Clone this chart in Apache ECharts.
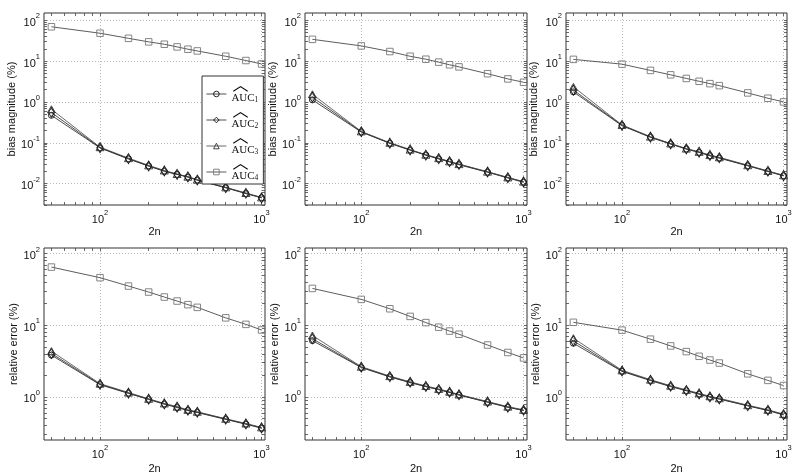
<!DOCTYPE html>
<html>
<head>
<meta charset="utf-8">
<script src="https://cdn.jsdelivr.net/npm/echarts@6/dist/echarts.min.js"></script>
<style>html,body{margin:0;padding:0;background:#fff}#c{width:800px;height:475px}</style>
</head>
<body>
<div id="c"></div>
<script>
// x values (2n)
const xs = [50, 100, 150, 200, 250, 300, 350, 400, 600, 800, 1000];
const seriesNames = ['AUC1', 'AUC2', 'AUC3', 'AUC4'];

// Top row: bias magnitude (%)
const biasP1_AUC1 = [0.47, 0.075, 0.040, 0.027, 0.020, 0.0168, 0.0145, 0.0122, 0.0079, 0.0057, 0.0045];
const biasP1_AUC2 = [0.55, 0.076, 0.041, 0.027, 0.0205, 0.0169, 0.0146, 0.0123, 0.0080, 0.0058, 0.0045];
const biasP1_AUC3 = [0.66, 0.078, 0.042, 0.028, 0.021, 0.0172, 0.0148, 0.0125, 0.0081, 0.0059, 0.0046];
const biasP1_AUC4 = [69, 48, 36, 29.5, 25.8, 22.2, 19.5, 17.7, 13.1, 10.3, 8.5];

const biasP2_AUC1 = [1.12, 0.183, 0.097, 0.066, 0.050, 0.040, 0.034, 0.029, 0.019, 0.0138, 0.0108];
const biasP2_AUC2 = [1.30, 0.186, 0.098, 0.067, 0.050, 0.041, 0.0346, 0.0297, 0.0193, 0.0140, 0.0110];
const biasP2_AUC3 = [1.54, 0.190, 0.100, 0.068, 0.051, 0.042, 0.035, 0.030, 0.0196, 0.0142, 0.0112];
const biasP2_AUC4 = [34, 23.5, 17.1, 13.1, 11.1, 9.4, 8.1, 7.2, 4.9, 3.66, 3.03];

const biasP3_AUC1 = [1.76, 0.262, 0.136, 0.093, 0.070, 0.058, 0.048, 0.042, 0.0273, 0.0198, 0.0155];
const biasP3_AUC2 = [1.95, 0.267, 0.138, 0.094, 0.071, 0.059, 0.049, 0.043, 0.0277, 0.0201, 0.0157];
const biasP3_AUC3 = [2.34, 0.273, 0.141, 0.096, 0.072, 0.060, 0.050, 0.044, 0.0282, 0.0204, 0.0160];
const biasP3_AUC4 = [11.0, 8.4, 5.9, 4.6, 3.75, 3.2, 2.8, 2.5, 1.66, 1.23, 1.0];

// Bottom row: relative error (%)
const relP1_AUC1 = [3.83, 1.48, 1.12, 0.92, 0.79, 0.71, 0.645, 0.605, 0.485, 0.415, 0.365];
const relP1_AUC2 = [4.04, 1.50, 1.13, 0.93, 0.80, 0.72, 0.65, 0.61, 0.49, 0.42, 0.37];
const relP1_AUC3 = [4.35, 1.53, 1.15, 0.94, 0.81, 0.73, 0.66, 0.62, 0.495, 0.425, 0.375];
const relP1_AUC4 = [65, 46.2, 35.3, 29.1, 24.8, 21.8, 19.4, 17.8, 12.7, 10.3, 8.6];

const relP2_AUC1 = [6.1, 2.57, 1.90, 1.58, 1.39, 1.26, 1.15, 1.06, 0.84, 0.715, 0.645];
const relP2_AUC2 = [6.5, 2.60, 1.92, 1.60, 1.40, 1.27, 1.16, 1.07, 0.85, 0.72, 0.65];
const relP2_AUC3 = [7.2, 2.64, 1.95, 1.62, 1.42, 1.29, 1.18, 1.08, 0.86, 0.73, 0.66];
const relP2_AUC4 = [32.7, 23, 17, 13.3, 10.9, 9.4, 8.3, 7.5, 5.3, 4.17, 3.5];

const relP3_AUC1 = [5.6, 2.27, 1.69, 1.39, 1.22, 1.09, 0.99, 0.93, 0.75, 0.645, 0.56];
const relP3_AUC2 = [6.05, 2.30, 1.71, 1.41, 1.23, 1.10, 1.00, 0.94, 0.755, 0.65, 0.565];
const relP3_AUC3 = [6.6, 2.35, 1.74, 1.43, 1.25, 1.12, 1.02, 0.955, 0.765, 0.66, 0.575];
const relP3_AUC4 = [11.0, 8.55, 6.4, 5.15, 4.29, 3.69, 3.27, 2.97, 2.1, 1.70, 1.44];

// axis ranges and tick labels
const xRange = [45, 1050];
const xTickLabels = [100, 1000];
const biasRange = [0.003, 150];
const biasTickLabels = [0.01, 0.1, 1, 10, 100];
const relRange = [0.25, 120];
const relTickLabels = [1, 10, 100];
const yNames = ['bias magnitude (%)', 'relative error (%)'];
const xName = '2n';

const panels = [
  {data: [biasP1_AUC1, biasP1_AUC2, biasP1_AUC3, biasP1_AUC4], row: 0, col: 0},
  {data: [biasP2_AUC1, biasP2_AUC2, biasP2_AUC3, biasP2_AUC4], row: 0, col: 1},
  {data: [biasP3_AUC1, biasP3_AUC2, biasP3_AUC3, biasP3_AUC4], row: 0, col: 2},
  {data: [relP1_AUC1, relP1_AUC2, relP1_AUC3, relP1_AUC4], row: 1, col: 0},
  {data: [relP2_AUC1, relP2_AUC2, relP2_AUC3, relP2_AUC4], row: 1, col: 1},
  {data: [relP3_AUC1, relP3_AUC2, relP3_AUC3, relP3_AUC4], row: 1, col: 2}
];

function logTicks(lo, hi) {
  const out = [];
  for (let e = Math.floor(Math.log10(lo)) - 1; e <= Math.ceil(Math.log10(hi)); e++) {
    for (let m = 1; m <= 9; m++) {
      const v = +(m * Math.pow(10, e)).toPrecision(6);
      if (v >= lo * 0.9999 && v <= hi * 1.0001) out.push(v);
    }
  }
  return out;
}

const FONT = 'Liberation Sans';
function powLabel(v) {
  const e = Math.round(Math.log10(v));
  return '{b|10}{e|' + e + '}';
}
const labelRich = {
  b: {fontSize: 11, fontFamily: FONT, color: '#111', lineHeight: 16, verticalAlign: 'bottom'},
  e: {fontSize: 7.5, fontFamily: FONT, color: '#111', lineHeight: 16, verticalAlign: 'top'}
};

const colLeft = [44, 305, 566];
const colWidth = [221, 222, 221];
const rowTop = [13, 248];
const rowHeight = 192;

const grids = [], xAxes = [], yAxes = [], series = [];
const styles = [
  {symbol: 'circle', size: 6, border: '#111', line: '#222'},
  {symbol: 'diamond', size: [6, 10], border: '#111', line: '#222'},
  {symbol: 'triangle', size: [8, 7], border: '#333', line: '#444'},
  {symbol: 'rect', size: 6.5, border: '#777', line: '#333'}
];

panels.forEach((p, gi) => {
  grids.push({left: colLeft[p.col], top: rowTop[p.row], width: colWidth[p.col], height: rowHeight,
    show: true, borderColor: '#333', borderWidth: 1, backgroundColor: '#fff', containLabel: false});
  const yr = p.row === 0 ? biasRange : relRange;
  const yLab = p.row === 0 ? biasTickLabels : relTickLabels;
  const xAll = logTicks(xRange[0], xRange[1]);
  const yAll = logTicks(yr[0], yr[1]);
  const base = {type: 'log', logBase: 10, gridIndex: gi};
  xAxes.push(Object.assign({}, base, {
    min: xRange[0], max: xRange[1], position: 'bottom',
    name: xName, nameLocation: 'middle', nameGap: p.row === 0 ? 21 : 23,
    nameTextStyle: {fontFamily: FONT, fontSize: 11, color: '#111'},
    axisLine: {show: false},
    axisTick: {show: false, customValues: xTickLabels},
    axisLabel: {show: true, customValues: xTickLabels, formatter: powLabel, rich: labelRich, margin: 4},
    splitLine: {show: true, lineStyle: {type: [1, 2], color: '#b8b8b8', width: 1}}
  }));
  ['bottom', 'top'].forEach(pos => {
    xAxes.push(Object.assign({}, base, {
      min: xRange[0], max: xRange[1], position: pos,
      axisLine: {show: false},
      axisTick: {show: true, inside: true, length: 3, customValues: xAll, lineStyle: {color: '#444', width: 0.8}},
      axisLabel: {show: false},
      splitLine: {show: false}
    }));
  });
  yAxes.push(Object.assign({}, base, {
    min: yr[0], max: yr[1], position: 'left',
    name: yNames[p.row], nameLocation: 'middle', nameGap: 21,
    nameTextStyle: {fontFamily: FONT, fontSize: 11, color: '#111'},
    axisLine: {show: false},
    axisTick: {show: false, customValues: yLab},
    axisLabel: {show: true, customValues: yLab, formatter: powLabel, rich: labelRich, margin: 4},
    splitLine: {show: true, lineStyle: {type: [1, 2], color: '#b8b8b8', width: 1}}
  }));
  ['left', 'right'].forEach(pos => {
    yAxes.push(Object.assign({}, base, {
      min: yr[0], max: yr[1], position: pos,
      axisLine: {show: false},
      axisTick: {show: true, inside: true, length: 3, customValues: yAll, lineStyle: {color: '#444', width: 0.8}},
      axisLabel: {show: false},
      splitLine: {show: false}
    }));
  });
  const xi = gi * 3, yi = gi * 3;
  p.data.forEach((vals, si) => {
    const st = styles[si];
    series.push({
      type: 'line', name: seriesNames[si], xAxisIndex: xi, yAxisIndex: yi,
      data: xs.map((x, k) => [x, vals[k]]),
      symbol: st.symbol, symbolSize: st.size, showSymbol: true,
      lineStyle: {color: st.line, width: 0.8},
      itemStyle: {color: 'rgba(255,255,255,0)', borderColor: st.border, borderWidth: 0.9},
      emphasis: {disabled: true}, animation: false, z: 3 + (si === 3 ? 1 : 0)
    });
  });
});

const chart = echarts.init(document.getElementById('c'), null, {renderer: 'canvas'});
chart.setOption({
  backgroundColor: '#fff',
  animation: false,
  grid: grids,
  xAxis: xAxes,
  yAxis: yAxes,
  legend: {
    show: true, orient: 'vertical', left: 202, top: 76,
    data: seriesNames,
    backgroundColor: '#fff', borderColor: '#333', borderWidth: 1,
    padding: [0, 5, 2, 4], itemGap: -2, itemWidth: 20, itemHeight: 7,
    selectedMode: false,
    itemStyle: {color: 'rgba(255,255,255,0)', borderWidth: 0.9},
    lineStyle: {width: 0.8},
    formatter: function (name) { return '{h|︿}\n{t|AUC}{s|' + name.slice(3) + '}'; },
    textStyle: {
      fontFamily: 'Liberation Serif', fontSize: 11, color: '#111',
      rich: {
        h: {fontFamily: 'Noto Sans CJK SC', fontSize: 16, lineHeight: 8, verticalAlign: 'bottom', color: '#000', padding: [0, 0, 0, 1]},
        t: {fontFamily: 'Liberation Serif', fontSize: 11, lineHeight: 12, color: '#111'},
        s: {fontFamily: 'Liberation Serif', fontSize: 7.5, lineHeight: 12, verticalAlign: 'bottom', color: '#111'}
      }
    }
  },
  series: series
});
</script>
</body>
</html>
